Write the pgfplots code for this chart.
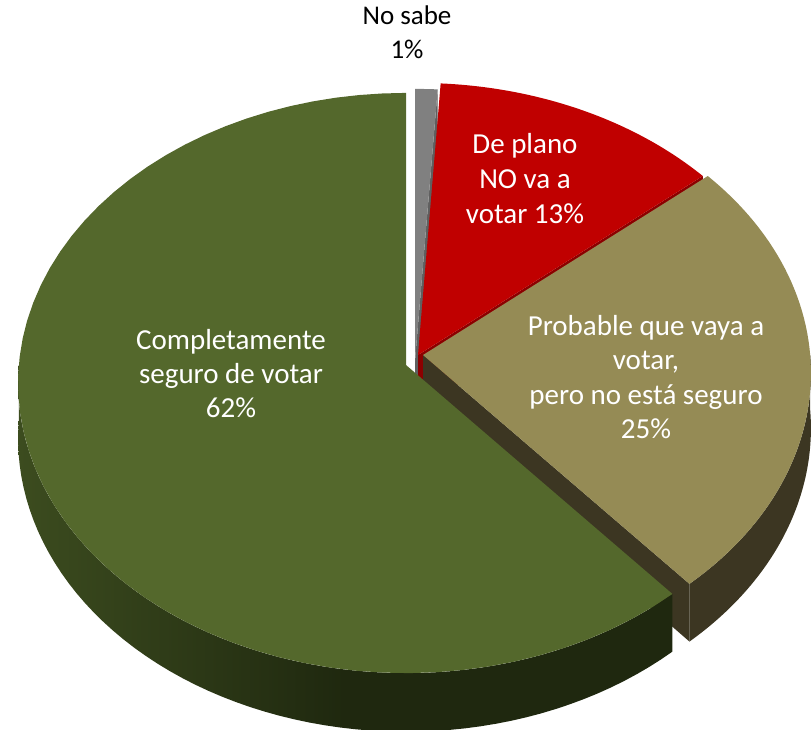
\documentclass[border=0pt]{standalone}
\usepackage{fontspec}
\setmainfont{Carlito}
\usepackage{pgfplots}
\pgfplotsset{compat=1.18}
\definecolor{gTop}{RGB}{84,104,44}
\definecolor{gSideL}{RGB}{60,76,31}
\definecolor{gSideD}{RGB}{31,40,15}
\definecolor{kTop}{RGB}{149,139,85}
\definecolor{kSide}{RGB}{60,54,34}
\definecolor{rTop}{RGB}{192,0,0}
\definecolor{rFace}{RGB}{140,0,0}
\definecolor{nTop}{RGB}{128,128,128}
\definecolor{nFace}{RGB}{95,95,95}
% data (percent)
\def\vNS{1}   % No sabe
\def\vNO{13}  % De plano NO va a votar
\def\vPR{25}  % Probable que vaya a votar
\def\vCS{62}  % Completamente seguro de votar
\pgfmathsetmacro\tot{\vNS+\vNO+\vPR+\vCS}
\pgfmathsetmacro\aA{90}
\pgfmathsetmacro\aB{\aA-360*\vNS/\tot}
\pgfmathsetmacro\aC{\aB-360*\vNO/\tot}
\pgfmathsetmacro\aD{\aC-360*\vPR/\tot}
\pgfmathsetmacro\aDD{\aD+360}
\newcommand{\wedgeTop}[5]{%
 \addplot[fill=#1, draw=none, samples at={0,1,...,61}]
  ({406+#4+ifthenelse(x<60.5,PX((#2)+((#3)-(#2))*x/60),0)},
   {365+#5+ifthenelse(x<60.5,PY((#2)+((#3)-(#2))*x/60),0)});}
\newcommand{\sideBand}[5]{%
 \addplot[#1, draw=none, samples at={0,1,...,121}]
  ({406+#4+PX(TB(x,#2,#3))},
   {365+#5+PY(TB(x,#2,#3))+ifthenelse(x<60.5,0,PD(TB(x,#2,#3)))});}
\newcommand{\radFace}[4]{%
 \addplot[fill=#1, draw=none, samples at={0,1,2,3}]
  ({406+#3+ifthenelse(and(x>0.5,x<2.5),PX(#2),0)},
   {365+#4+ifthenelse(and(x>0.5,x<2.5),PY(#2),0)+ifthenelse(x>1.5,ifthenelse(x>2.5,55,PD(#2)),0)});}
\begin{document}
\begin{tikzpicture}
\begin{axis}[scale only axis, width=812pt, height=729pt,
  xmin=0, xmax=812, ymin=0, ymax=729, y dir=reverse,
  hide axis, clip=false,
  declare function={
    PX(\t)=387.2*cos(\t)/(1+0.0621*sin(\t));
    PY(\t)=-289*sin(\t)/(1+0.0621*sin(\t));
    PD(\t)=55/(1+0.0621*sin(\t));
    TB(\s,\p,\q)=ifthenelse(\s<60.5,(\p)+((\q)-(\p))*\s/60,(\q)-((\q)-(\p))*(\s-61)/60);
  }]
% No sabe
\radFace{nFace}{\aB}{9}{-4}
\wedgeTop{nTop}{\aA}{\aB}{9}{-4}
% De plano NO
\radFace{rFace}{\aC}{12}{-10}
\wedgeTop{rTop}{\aB}{\aC}{12}{-10}
% Probable
\radFace{kSide}{\aD}{17}{-10}
\sideBand{fill=kSide}{\aD}{0}{17}{-10}
\wedgeTop{kTop}{\aC}{\aD}{17}{-10}
% Completamente
\sideBand{left color=gSideL, right color=gSideD, middle color=gSideD}{180}{\aDD}{0}{0}
\wedgeTop{gTop}{\aA}{\aDD}{0}{0}
% labels
\node[align=center, font=\fontsize{27}{34}\selectfont, text=black] at (axis cs:407,32) {No sabe\\1\%};
\node[align=center, font=\fontsize{29}{35}\selectfont, text=white] at (axis cs:525,179) {De plano\\NO va a\\votar 13\%};
\node[align=center, font=\fontsize{29}{34.5}\selectfont, text=white] at (axis cs:646,377) {Probable que vaya a\\votar,\\pero no está seguro\\25\%};
\node[align=center, font=\fontsize{29}{34}\selectfont, text=white] at (axis cs:231,374) {Completamente\\seguro de votar\\62\%};
\end{axis}
\pgfresetboundingbox
\path[use as bounding box] (current axis.south west) rectangle (current axis.north east);
\end{tikzpicture}
\end{document}
